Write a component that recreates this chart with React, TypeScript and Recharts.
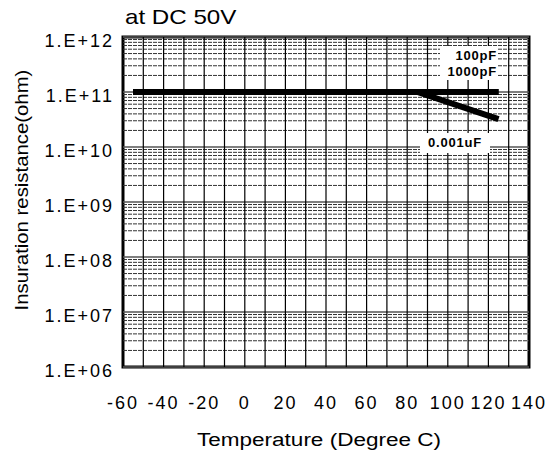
import React from 'react';
import { LineChart, Line, XAxis, YAxis, ReferenceLine, ReferenceArea } from 'recharts';

const temps = [-55, 25, 85, 125];
const cap100pF = [1e11, 1e11, 1e11, 1e11];
const cap1000pF = [1e11, 1e11, 1e11, 1e11];
const cap001uF = [1e11, 1e11, 1e11, 3.2e10];

const xTicks = [-60, -40, -20, 0, 20, 40, 60, 80, 100, 120, 140];
const yTicks = [1e6, 1e7, 1e8, 1e9, 1e10, 1e11, 1e12];

const data = temps.map((t, i) => ({
  temp: t,
  p100: cap100pF[i],
  p1000: cap1000pF[i],
  u001: cap001uF[i],
}));

// grid helpers
const vLines: number[] = [];
for (let x = -50; x < 140; x += 10) vLines.push(x);
const minorLines: number[] = [];
for (let d = 6; d < 12; d++) {
  for (let m = 2; m <= 9; m++) minorLines.push(m * Math.pow(10, d));
}

const FONT = '"Liberation Sans", Arial, sans-serif';

const fmtY = (v: number) => `1.E+${String(Math.round(Math.log10(v))).padStart(2, '0')}`;

const tagStyle: React.CSSProperties = {
  position: 'absolute',
  background: '#fff',
  fontFamily: FONT,
  fontWeight: 'bold',
  fontSize: 13,
  letterSpacing: 0.8,
  color: '#000',
  textAlign: 'right',
  lineHeight: '16px',
};

export default function App() {
  return (
    <div style={{ position: 'absolute', left: 0, top: 0, width: 549, height: 454, background: '#fff', fontFamily: FONT }}>
      <style>{'.recharts-surface { overflow: visible; }'}</style>
      <LineChart width={549} height={454} data={data} margin={{ top: 37, right: 20, bottom: 27, left: 0 }}>
        <XAxis
          dataKey="temp"
          type="number"
          domain={[-60, 140]}
          ticks={xTicks}
          axisLine={false}
          tickLine={false}
          height={60}
          tick={{ fontSize: 18, fill: '#000', fontFamily: FONT, dy: 21, letterSpacing: 2 }}
          interval={0}
        />
        <YAxis
          type="number"
          scale="log"
          domain={[1e6, 1e12]}
          allowDataOverflow
          ticks={yTicks}
          tickFormatter={fmtY}
          axisLine={false}
          tickLine={false}
          width={123}
          interval={0}
          tick={{ fontSize: 18, fill: '#000', fontFamily: FONT, dx: -1, dy: 4, letterSpacing: 2 }}
        />
        {minorLines.map((v) => (
          <ReferenceLine key={'m' + v} y={v} stroke="#333" strokeWidth={1} strokeDasharray="4 1" />
        ))}
        {yTicks.map((v) => (
          <ReferenceLine key={'y' + v} y={v} stroke="#555" strokeWidth={1.3} />
        ))}
        {vLines.map((v) => (
          <ReferenceLine key={'x' + v} x={v} stroke="#000" strokeWidth={1.2} />
        ))}
        <ReferenceArea x1={-60} x2={140} y1={1e6} y2={1e12} fill="none" stroke="#000" strokeWidth={3} ifOverflow="visible" />
        <Line dataKey="u001" stroke="#000" strokeWidth={6} dot={false} isAnimationActive={false} />
        <Line dataKey="p1000" stroke="#000" strokeWidth={6} dot={false} isAnimationActive={false} />
        <Line dataKey="p100" stroke="#000" strokeWidth={6} dot={false} isAnimationActive={false} />
      </LineChart>
      <div style={{ position: 'absolute', left: 125, top: 5, fontSize: 21, fontFamily: FONT, transform: 'scaleX(1.15)', transformOrigin: 'left center', whiteSpace: 'nowrap' }}>
        at DC 50V
      </div>
      <div
        style={{
          position: 'absolute',
          left: 319,
          top: 430,
          lineHeight: '20px',
          transform: 'translateX(-50%) scaleX(1.25)',
          whiteSpace: 'nowrap',
          fontSize: 18,
          fontFamily: FONT,
        }}
      >
        Temperature (Degree C)
      </div>
      <div
        style={{
          position: 'absolute',
          left: 22,
          top: 190,
          transform: 'translate(-50%, -50%) rotate(-90deg) scaleX(1.13)',
          whiteSpace: 'nowrap',
          fontSize: 18,
          fontFamily: FONT,
        }}
      >
        Insuration resistance(ohm)
      </div>
      <div style={{ ...tagStyle, left: 440, top: 46, width: 57, paddingTop: 2 }}>
        100pF
        <br />
        1000pF
      </div>
      <div style={{ ...tagStyle, left: 420, top: 133, width: 70, textAlign: 'center', paddingTop: 2, paddingBottom: 2 }}>0.001uF</div>
    </div>
  );
}
